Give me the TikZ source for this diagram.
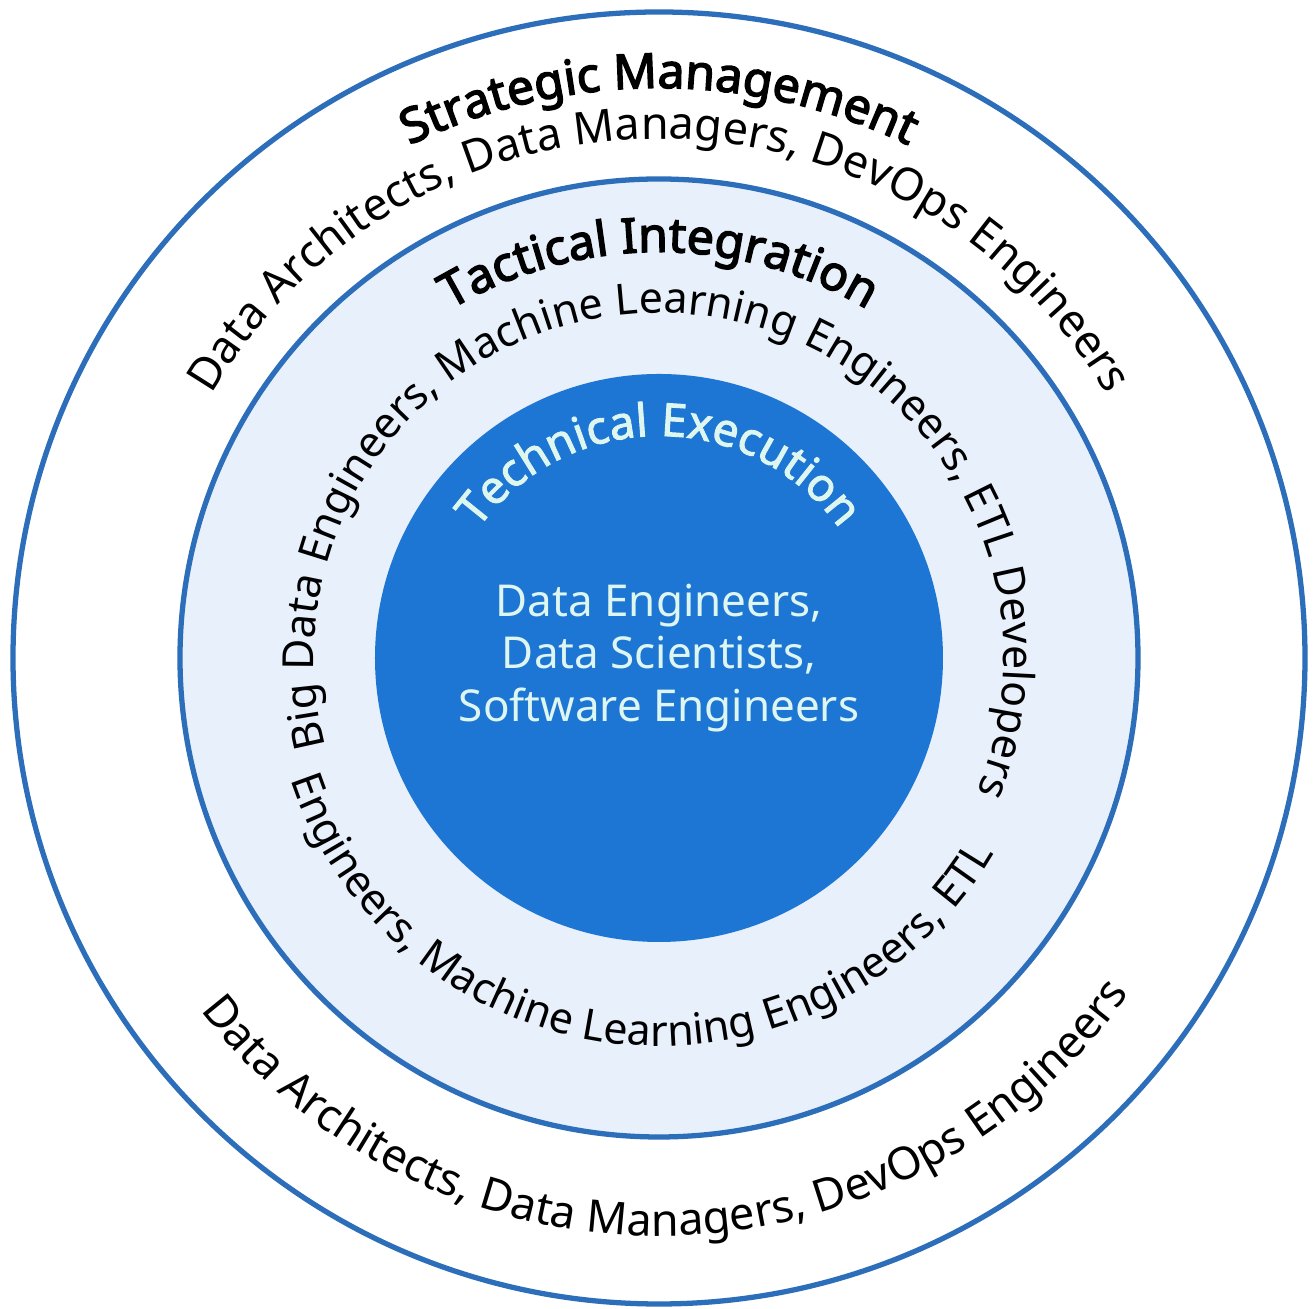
\documentclass[tikz,border=0pt]{standalone}
\usepackage{fontspec}
\setmainfont{Noto Sans}
\newfontfamily\heavysans{Noto Sans}[FakeBold=3]
\newfontfamily\semisans{Noto Sans}[FakeBold=2]
\usetikzlibrary{decorations.text}
\definecolor{ringblue}{RGB}{44,110,185}
\definecolor{coreblue}{RGB}{30,118,212}
\definecolor{paleblue}{RGB}{232,240,251}
\definecolor{coretext}{RGB}{222,246,240}
\newcommand{\ringtitle}{\heavysans\fontsize{13.7}{16}\selectfont}
\newcommand{\ringlabel}{\fontsize{12.2}{14}\selectfont}
\newcommand{\outerlabel}{\fontsize{12.8}{14}\selectfont}
\newcommand{\coretitle}{\color{coretext}\semisans\fontsize{13}{15}\selectfont}

\begin{document}
\begin{tikzpicture}[
    ring/.style={circle, draw=ringblue, line width=1.5pt, inner sep=0pt},
    arctext/.style={decorate, decoration={text along path, text align=center, text={#1}}}]
    \useasboundingbox (-6.59,-6.51) rectangle (6.54,6.58);
    \node [ring, fill=white, minimum size=12.92cm] (outer) at (0,0) {};
    \node [ring, fill=paleblue, minimum size=9.58cm] (middle) at (0,0) {};
    \node [circle, fill=coreblue, inner sep=0pt, minimum size=5.68cm] (inner) at (0,0) {};
    \path [arctext={|\ringtitle|Strategic Management}] (180:5.70) arc [start angle=180, end angle=0, radius=5.70];
    \path [arctext={|\outerlabel|Data Architects, Data Managers, DevOps Engineers}] (178:5.19) arc [start angle=178, end angle=2, radius=5.19];
    \path [arctext={|\ringtitle|Tactical Integration}] (160:4.06) arc [start angle=160, end angle=20, radius=4.06];
    \path [arctext={|\ringlabel|Big Data Engineers, Machine Learning Engineers, ETL Developers}] (216:3.45) arc [start angle=216, end angle=-44, radius=3.45];
    \path [arctext={|\ringlabel|Engineers, Machine Learning Engineers, ETL}] (184:3.88) arc [start angle=184, end angle=344, radius=3.88];
    \path [arctext={|\outerlabel|Data Architects, Data Managers, DevOps Engineers}] (196:5.78) arc [start angle=196, end angle=346, radius=5.78];
    \path [arctext={|\coretitle|Technical Execution}] (170:2.22) arc [start angle=170, end angle=10, radius=2.22];
    \node [align=center, text=coretext, font=\fontsize{12.5}{15}\selectfont] (roles) at (inner.center) {Data Engineers,\\Data Scientists,\\Software Engineers};
\end{tikzpicture}
\end{document}
